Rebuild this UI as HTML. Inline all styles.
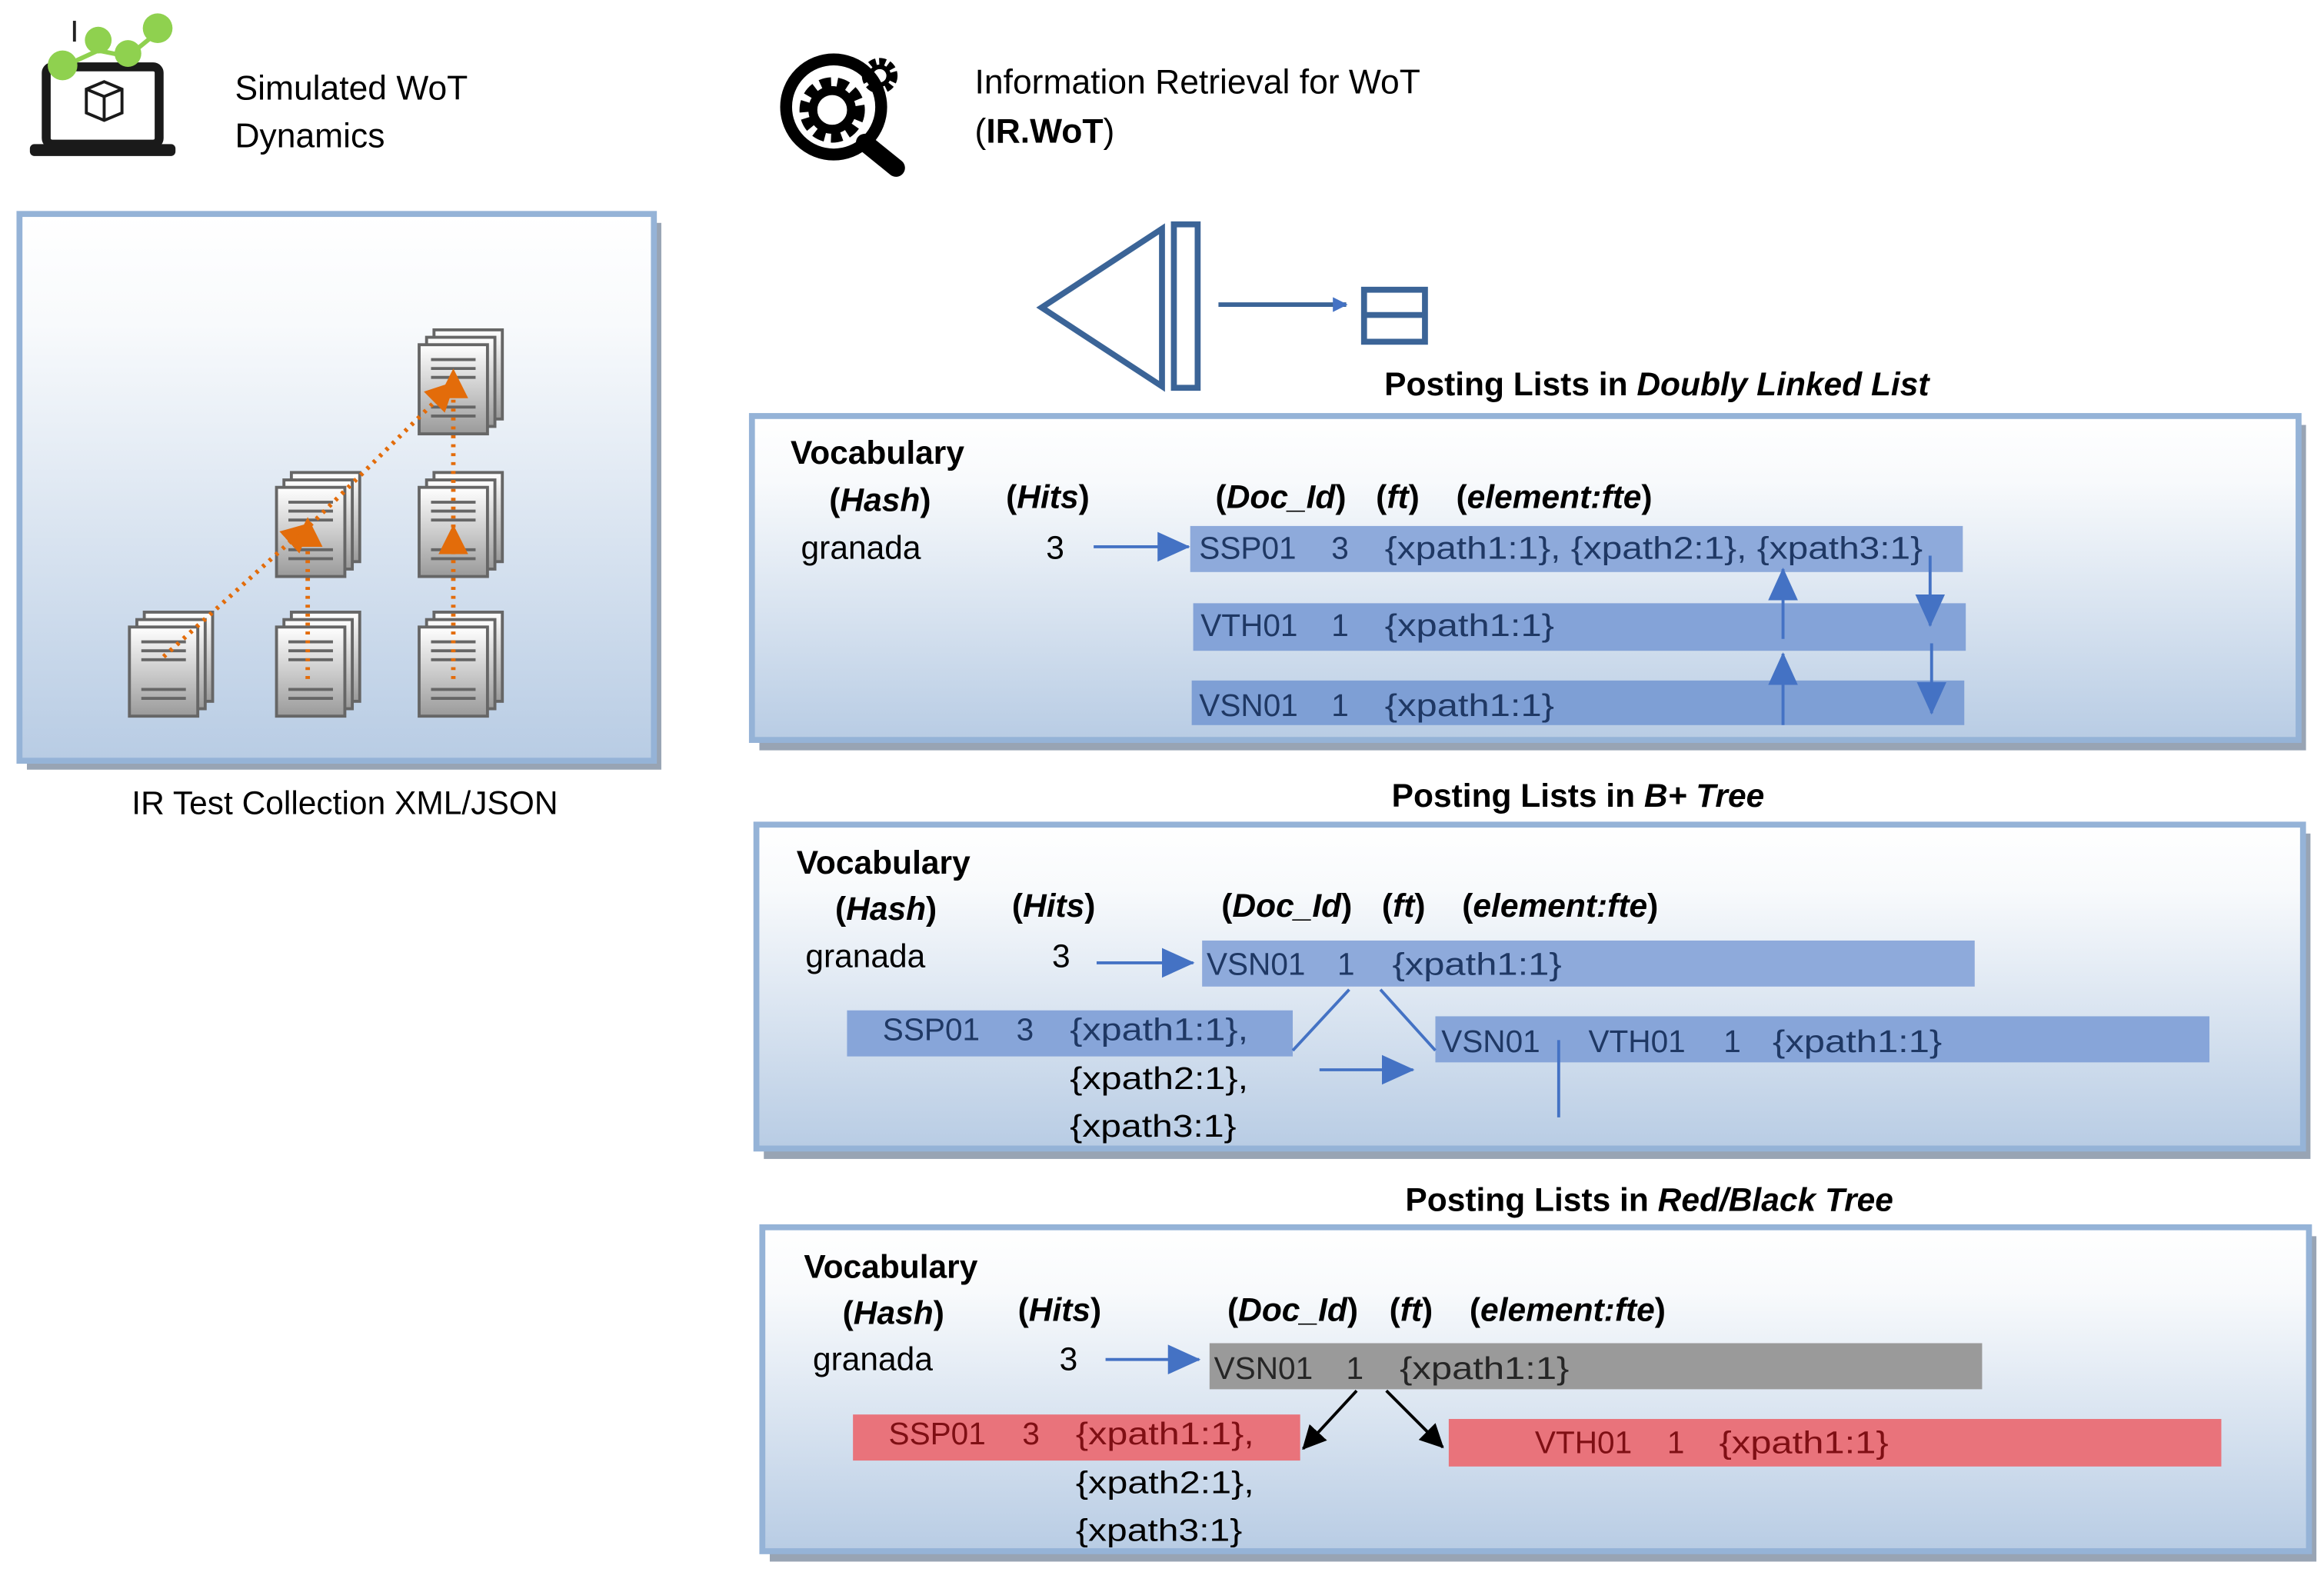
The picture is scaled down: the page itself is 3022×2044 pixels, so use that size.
<!DOCTYPE html>
<html><head><meta charset="utf-8"><style>
html,body{margin:0;padding:0;background:#fff}
svg{display:block}
text{font-family:"Liberation Sans",sans-serif;}
</style></head><body>
<svg width="3022" height="2044" viewBox="0 0 1564 1058" xmlns="http://www.w3.org/2000/svg">
<defs>
<linearGradient id="pg" x1="0" y1="0" x2="0" y2="1"><stop offset="0" stop-color="#ffffff"/><stop offset="0.2" stop-color="#f8fafc"/><stop offset="1" stop-color="#b8cce4"/></linearGradient>
<linearGradient id="dg" x1="0" y1="0" x2="0" y2="1"><stop offset="0" stop-color="#ffffff"/><stop offset="1" stop-color="#9a9a9a"/></linearGradient>
<g id="page"><rect x="0" y="0" width="46" height="60" fill="url(#dg)" stroke="#666" stroke-width="2"/><path d="M8 10h30M8 16h30M8 22h30M8 42h30M8 48h30" stroke="#666" stroke-width="2"/></g>
<g id="stack"><use href="#page" x="10" y="-10"/><use href="#page" x="5" y="-5"/><use href="#page"/></g>
<marker id="ab" markerWidth="10" markerHeight="10" refX="9" refY="5" orient="auto" markerUnits="userSpaceOnUse"><path d="M0 0L10 5L0 10z" fill="#4472c4"/></marker>
<marker id="ab2" markerWidth="18" markerHeight="18" refX="17" refY="9" orient="auto" markerUnits="userSpaceOnUse"><path d="M0 1L18 9L0 17z" fill="#4472c4"/></marker>
<marker id="ab3" markerWidth="22" markerHeight="22" refX="21" refY="11" orient="auto" markerUnits="userSpaceOnUse"><path d="M0 1L22 11L0 21z" fill="#4472c4"/></marker>
<marker id="ak" markerWidth="16" markerHeight="16" refX="15" refY="8" orient="auto" markerUnits="userSpaceOnUse"><path d="M0 0L16 8L0 16z" fill="#000"/></marker>
<marker id="ao" markerWidth="20" markerHeight="20" refX="18" refY="10" orient="auto" markerUnits="userSpaceOnUse"><path d="M0 0L20 10L0 20z" fill="#e36c0a"/></marker>
</defs>

<!-- laptop icon -->
<rect x="31" y="45" width="76" height="52" rx="4" fill="none" stroke="#1a1a1a" stroke-width="6"/>
<rect x="20" y="97" width="98" height="8" rx="3" fill="#1a1a1a"/>
<path d="M58 60l12-5 12 5v16l-12 5-12-5z M58 60l12 5 12-5 M70 65v16" fill="none" stroke="#1a1a1a" stroke-width="2"/>
<path d="M42 45L66 34L86 38L108 20" stroke="#8fd14f" stroke-width="3" fill="none"/>
<circle cx="42" cy="44" r="10" fill="#8fd14f"/><circle cx="66" cy="27" r="9" fill="#8fd14f"/><circle cx="86" cy="36" r="9" fill="#8fd14f"/><circle cx="106" cy="19" r="10" fill="#8fd14f"/>
<rect x="49" y="14" width="2" height="14" fill="#222"/>
<text x="158" y="67" font-size="23">Simulated WoT</text>
<text x="158" y="99" font-size="23">Dynamics</text>

<!-- gear icon -->
<circle cx="561" cy="72" r="32" fill="none" stroke="#000" stroke-width="8"/>
<circle cx="560" cy="74" r="18" fill="none" stroke="#000" stroke-width="8" stroke-dasharray="7 4"/>
<circle cx="560" cy="74" r="13" fill="none" stroke="#000" stroke-width="6"/>
<circle cx="592" cy="51" r="9" fill="none" stroke="#000" stroke-width="6" stroke-dasharray="4 2"/>
<circle cx="592" cy="51" r="6" fill="none" stroke="#000" stroke-width="3"/>
<line x1="582" y1="96" x2="603" y2="113" stroke="#000" stroke-width="12" stroke-linecap="round"/>
<text x="656" y="63" font-size="23">Information Retrieval for WoT</text>
<text x="656" y="96" font-size="23">(<tspan font-weight="bold">IR.WoT</tspan>)</text>

<!-- B-tree icon -->
<path d="M782 154L701 207L782 260z" fill="none" stroke="#3b6497" stroke-width="4"/>
<rect x="790" y="151" width="16" height="110" fill="none" stroke="#3b6497" stroke-width="4"/>
<line x1="820" y1="205" x2="906" y2="205" stroke="#3b6497" stroke-width="3" marker-end="url(#ab)"/>
<rect x="918" y="195" width="41" height="35" fill="none" stroke="#3b6497" stroke-width="4"/>
<line x1="918" y1="212" x2="959" y2="212" stroke="#3b6497" stroke-width="4"/>

<!-- left panel -->
<rect x="18" y="150" width="427" height="368" fill="#98a4b4"/>
<rect x="13" y="144" width="427" height="368" fill="url(#pg)" stroke="#95b3d7" stroke-width="4"/>
<use href="#stack" x="87" y="422"/>
<use href="#stack" x="186" y="422"/>
<use href="#stack" x="282" y="422"/>
<use href="#stack" x="186" y="328"/>
<use href="#stack" x="282" y="328"/>
<use href="#stack" x="282" y="232"/>
<g stroke="#e36c0a" stroke-width="3" stroke-dasharray="2 4" fill="none">
<line x1="110" y1="442" x2="208" y2="353" marker-end="url(#ao)"/>
<line x1="200" y1="362" x2="305" y2="258" marker-end="url(#ao)"/>
<line x1="207" y1="457" x2="207" y2="350" marker-end="url(#ao)"/>
<line x1="305" y1="457" x2="305" y2="355" marker-end="url(#ao)"/>
<line x1="305" y1="355" x2="305" y2="250" marker-end="url(#ao)"/>
</g>
<text x="232" y="548" font-size="22" text-anchor="middle">IR Test Collection XML/JSON</text>

<!-- Panel 1 -->
<text x="1115" y="266" font-size="22" font-weight="bold" text-anchor="middle">Posting Lists in <tspan font-style="italic">Doubly Linked List</tspan></text>
<rect x="511" y="286" width="1041" height="219" fill="#98a4b4"/>
<rect x="506" y="280" width="1041" height="218" fill="url(#pg)" stroke="#95b3d7" stroke-width="4"/>
<text x="532" y="312" font-size="22" font-weight="bold">Vocabulary</text>
<text x="558" y="344" font-size="22" font-weight="bold">(<tspan font-style="italic">Hash</tspan>)</text>
<text x="677" y="342" font-size="22" font-weight="bold">(<tspan font-style="italic">Hits</tspan>)</text>
<text x="818" y="342" font-size="22" font-weight="bold">(<tspan font-style="italic">Doc_Id</tspan>)</text>
<text x="926" y="342" font-size="22" font-weight="bold">(<tspan font-style="italic">ft</tspan>)</text>
<text x="980" y="342" font-size="22" font-weight="bold">(<tspan font-style="italic">element:fte</tspan>)</text>
<text x="539" y="376" font-size="22">granada</text>
<text x="704" y="376" font-size="22">3</text>
<line x1="736" y1="368" x2="800" y2="368" stroke="#4472c4" stroke-width="2" marker-end="url(#ab3)"/>
<rect x="801" y="354" width="520" height="31" fill="#8eaadb"/>
<rect x="803" y="406" width="520" height="32" fill="#84a3d8"/>
<rect x="802" y="458" width="520" height="30" fill="#7e9fd5"/>
<g fill="#1f3864" font-size="21">
<text x="807" y="376">SSP01</text><text x="896" y="376">3</text><text x="932" y="376" textLength="362" lengthAdjust="spacingAndGlyphs">{xpath1:1}, {xpath2:1}, {xpath3:1}</text>
<text x="808" y="428">VTH01</text><text x="896" y="428">1</text><text x="932" y="428" textLength="114" lengthAdjust="spacingAndGlyphs">{xpath1:1}</text>
<text x="807" y="482">VSN01</text><text x="896" y="482">1</text><text x="932" y="482" textLength="114" lengthAdjust="spacingAndGlyphs">{xpath1:1}</text>
</g>
<g stroke="#4472c4" stroke-width="2">
<line x1="1200" y1="430" x2="1200" y2="383" marker-end="url(#ab3)"/>
<line x1="1299" y1="374" x2="1299" y2="421" marker-end="url(#ab3)"/>
<line x1="1200" y1="488" x2="1200" y2="440" marker-end="url(#ab3)"/>
<line x1="1300" y1="433" x2="1300" y2="480" marker-end="url(#ab3)"/>
</g>

<!-- Panel 2 -->
<text x="1062" y="543" font-size="22" font-weight="bold" text-anchor="middle">Posting Lists in <tspan font-style="italic">B+ Tree</tspan></text>
<rect x="514" y="561" width="1041" height="219" fill="#98a4b4"/>
<rect x="509" y="555" width="1041" height="218" fill="url(#pg)" stroke="#95b3d7" stroke-width="4"/>
<text x="536" y="588" font-size="22" font-weight="bold">Vocabulary</text>
<text x="562" y="619" font-size="22" font-weight="bold">(<tspan font-style="italic">Hash</tspan>)</text>
<text x="681" y="617" font-size="22" font-weight="bold">(<tspan font-style="italic">Hits</tspan>)</text>
<text x="822" y="617" font-size="22" font-weight="bold">(<tspan font-style="italic">Doc_Id</tspan>)</text>
<text x="930" y="617" font-size="22" font-weight="bold">(<tspan font-style="italic">ft</tspan>)</text>
<text x="984" y="617" font-size="22" font-weight="bold">(<tspan font-style="italic">element:fte</tspan>)</text>
<text x="542" y="651" font-size="22">granada</text>
<text x="708" y="651" font-size="22">3</text>
<line x1="738" y1="648" x2="803" y2="648" stroke="#4472c4" stroke-width="2" marker-end="url(#ab3)"/>
<rect x="809" y="633" width="520" height="31" fill="#8eaadb"/>
<rect x="570" y="680" width="300" height="31" fill="#87a5d9"/>
<rect x="966" y="684" width="521" height="31" fill="#87a5d9"/>
<g fill="#1f3864" font-size="21">
<text x="812" y="656">VSN01</text><text x="900" y="656">1</text><text x="937" y="656" textLength="114" lengthAdjust="spacingAndGlyphs">{xpath1:1}</text>
<text x="594" y="700">SSP01</text><text x="684" y="700">3</text><text x="720" y="700" textLength="120" lengthAdjust="spacingAndGlyphs">{xpath1:1},</text>
<text x="970" y="708">VSN01</text><text x="1069" y="708">VTH01</text><text x="1160" y="708">1</text><text x="1193" y="708" textLength="114" lengthAdjust="spacingAndGlyphs">{xpath1:1}</text>
</g>
<text x="720" y="733" font-size="21" textLength="120" lengthAdjust="spacingAndGlyphs">{xpath2:1},</text>
<text x="720" y="765" font-size="21" textLength="112" lengthAdjust="spacingAndGlyphs">{xpath3:1}</text>
<g stroke="#4472c4" stroke-width="2">
<line x1="870" y1="707" x2="908" y2="666"/>
<line x1="929" y1="666" x2="966" y2="707"/>
<line x1="1049" y1="700" x2="1049" y2="752"/>
<line x1="888" y1="720" x2="951" y2="720" marker-end="url(#ab3)"/>
</g>

<!-- Panel 3 -->
<text x="1110" y="815" font-size="22" font-weight="bold" text-anchor="middle">Posting Lists in <tspan font-style="italic">Red/Black Tree</tspan></text>
<rect x="518" y="832" width="1041" height="219" fill="#98a4b4"/>
<rect x="513" y="826" width="1041" height="218" fill="url(#pg)" stroke="#95b3d7" stroke-width="4"/>
<text x="541" y="860" font-size="22" font-weight="bold">Vocabulary</text>
<text x="567" y="891" font-size="22" font-weight="bold">(<tspan font-style="italic">Hash</tspan>)</text>
<text x="685" y="889" font-size="22" font-weight="bold">(<tspan font-style="italic">Hits</tspan>)</text>
<text x="826" y="889" font-size="22" font-weight="bold">(<tspan font-style="italic">Doc_Id</tspan>)</text>
<text x="935" y="889" font-size="22" font-weight="bold">(<tspan font-style="italic">ft</tspan>)</text>
<text x="989" y="889" font-size="22" font-weight="bold">(<tspan font-style="italic">element:fte</tspan>)</text>
<text x="547" y="922" font-size="22">granada</text>
<text x="713" y="922" font-size="22">3</text>
<line x1="744" y1="915" x2="807" y2="915" stroke="#4472c4" stroke-width="2" marker-end="url(#ab3)"/>
<rect x="814" y="904" width="520" height="31" fill="#9a9a9a"/>
<rect x="574" y="952" width="301" height="31" fill="#e9737b"/>
<rect x="975" y="955" width="520" height="32" fill="#e9737b"/>
<g fill="#262626" font-size="21">
<text x="817" y="928">VSN01</text><text x="906" y="928">1</text><text x="942" y="928" textLength="114" lengthAdjust="spacingAndGlyphs">{xpath1:1}</text>
</g>
<g fill="#7f0f14" font-size="21">
<text x="598" y="972">SSP01</text><text x="688" y="972">3</text><text x="724" y="972" textLength="120" lengthAdjust="spacingAndGlyphs">{xpath1:1},</text>
<text x="1033" y="978">VTH01</text><text x="1122" y="978">1</text><text x="1157" y="978" textLength="114" lengthAdjust="spacingAndGlyphs">{xpath1:1}</text>
</g>
<text x="724" y="1005" font-size="21" textLength="120" lengthAdjust="spacingAndGlyphs">{xpath2:1},</text>
<text x="724" y="1037" font-size="21" textLength="112" lengthAdjust="spacingAndGlyphs">{xpath3:1}</text>
<g stroke="#000" stroke-width="2">
<line x1="913" y1="936" x2="877" y2="975" marker-end="url(#ak)"/>
<line x1="933" y1="936" x2="971" y2="974" marker-end="url(#ak)"/>
</g>
</svg>
</body></html>
